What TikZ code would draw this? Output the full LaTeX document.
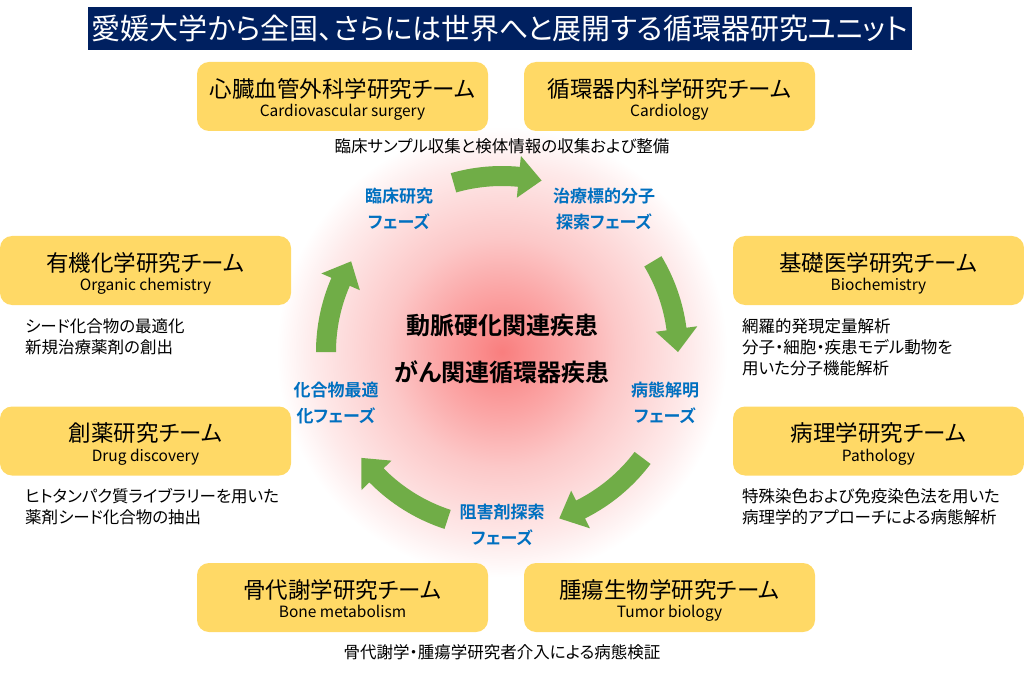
\documentclass[tikz,border=0pt]{standalone}
\usepackage{fontspec}
\setmainfont{Noto Sans CJK JP}[RawFeature=+palt, BoldFont={Noto Sans CJK JP Bold}]
\definecolor{titlenavy}{HTML}{002060}
\definecolor{teamyellow}{HTML}{FFD966}
\definecolor{arrowgreen}{HTML}{70AD47}
\definecolor{phaseblue}{HTML}{0070C0}
\definecolor{glowcore}{HTML}{F97E7E}
\definecolor{glowinner}{HTML}{FBA6A6}
\definecolor{glowmid}{HTML}{FCC8C8}
\definecolor{glowedge}{HTML}{FEEAEA}
\pgfdeclareradialshading{glow}{\pgfpoint{0bp}{0bp}}{color(0bp)=(glowcore); color(7bp)=(glowinner); color(12.5bp)=(glowmid); color(20.5bp)=(glowedge); color(24.5bp)=(white); color(50bp)=(white)}
\newcommand\teamtext[2]{\rule{0pt}{27pt}#1\\{\fontsize{15.5}{19}\selectfont #2\strut}}

\begin{document}
\begin{tikzpicture}[x=1pt, y=1pt,
  teambox/.style={fill=teamyellow, rounded corners=12pt, minimum width=291pt, minimum height=69pt, inner sep=0pt, align=center, font=\fontsize{22.5}{19.5}\selectfont},
  phaselabel/.style={text=phaseblue, align=center, inner sep=0pt, font=\fontsize{17}{26}\selectfont\bfseries},
  remark/.style={align=left, anchor=north west, inner sep=0pt, font=\fontsize{16.5}{21}\selectfont}]
\useasboundingbox (0,0) rectangle (1024,673);

% title bar
\node[fill=titlenavy, text=white, minimum width=824pt, minimum height=43pt, inner sep=0pt, font=\fontsize{29}{32}\selectfont] (title) at (500,644.5) {愛媛大学から全国、さらには世界へと展開する循環器研究ユニット};

% glow and cycle
\shade[shading=glow] (502,321) circle (230);
\begin{scope}[shift={(502,321)}]
\foreach \tail/\tip in {106/77, 31/0, -37/-71, -108/-143, 180/149}{
  \pgfmathsetmacro\neck{\tip+7.5}
  \fill[arrowgreen] (\tail:166) arc[start angle=\tail, end angle=\neck, radius=166] -- (\neck:155) -- (\tip:176) -- (\neck:197) -- (\neck:186) arc[start angle=\neck, end angle=\tail, radius=186] -- cycle;
}
\end{scope}

\node[align=center, font=\fontsize{24}{47}\selectfont\bfseries] (disease) at (502,324.5) {動脈硬化関連疾患\\がん関連循環器疾患};

% phases
\node[phaselabel] (rinsho) at (399,464) {臨床研究\\フェーズ};
\node[phaselabel] (target) at (604,464) {治療標的分子\\探索フェーズ};
\node[phaselabel] (byotai) at (665,270) {病態解明\\フェーズ};
\node[phaselabel] (inhibit) at (502,148.5) {阻害剤探索\\フェーズ};
\node[phaselabel] (optim) at (336,270) {化合物最適\\化フェーズ};

% teams
\node[teambox] (cvs) at (342.5,576.5) {\teamtext{心臓血管外科学研究チーム}{Cardiovascular surgery}};
\node[teambox] (cardio) at (669.5,576.5) {\teamtext{循環器内科学研究チーム}{Cardiology}};
\node[teambox] (organic) at (145.5,402.5) {\teamtext{有機化学研究チーム}{Organic chemistry}};
\node[teambox] (drug) at (145.5,232) {\teamtext{創薬研究チーム}{Drug discovery}};
\node[teambox] (biochem) at (878.5,402.5) {\teamtext{基礎医学研究チーム}{Biochemistry}};
\node[teambox] (patho) at (878.5,232) {\teamtext{病理学研究チーム}{Pathology}};
\node[teambox] (bone) at (342.5,75.5) {\teamtext{骨代謝学研究チーム}{Bone metabolism}};
\node[teambox] (tumor) at (669.5,75.5) {\teamtext{腫瘍生物学研究チーム}{Tumor biology}};

% remarks
\node[font=\fontsize{16.5}{21}\selectfont] (sample) at (502,527) {臨床サンプル収集と検体情報の収集および整備};
\node[font=\fontsize{16.5}{21}\selectfont] (verify) at (502,21) {骨代謝学・腫瘍学研究者介入による病態検証};
\node[remark] (seed) at (25,355) {シード化合物の最適化\\新規治療薬剤の創出};
\node[remark] (library) at (25,185) {ヒトタンパク質ライブラリーを用いた\\薬剤シード化合物の抽出};
\node[remark] (omics) at (742,355) {網羅的発現定量解析\\分子・細胞・疾患モデル動物を\\用いた分子機能解析};
\node[remark] (stain) at (742,185) {特殊染色および免疫染色法を用いた\\病理学的アプローチによる病態解析};

\end{tikzpicture}
\end{document}
